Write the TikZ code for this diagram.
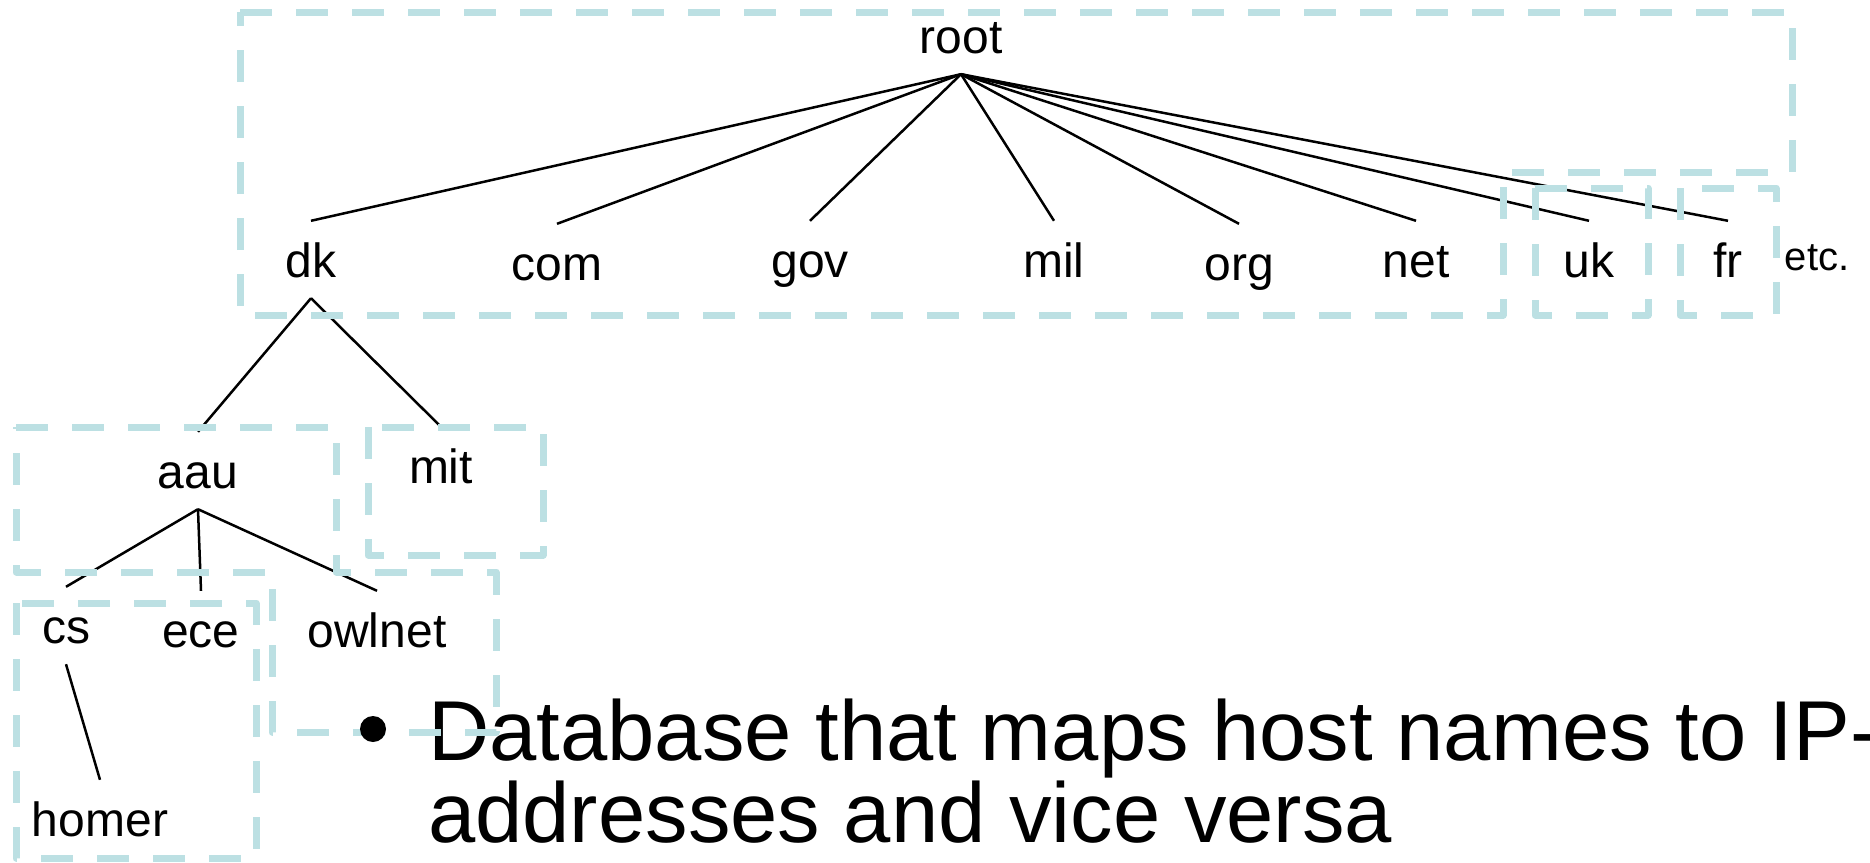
\documentclass[tikz,border=0pt]{standalone}
\usepackage{fontspec}
\setmainfont{Liberation Sans}
\definecolor{zoneblue}{HTML}{BCE0E3}
\begin{document}
\begin{tikzpicture}[x=1pt,y=-1pt,
  zone/.style={draw=zoneblue, line width=7pt, dash pattern=on 32pt off 24pt, line join=round},
  link/.style={draw=black, line width=2.5pt},
  lbl/.style={font=\fontsize{48}{48}\selectfont, text height=35pt, text depth=0pt,
              inner xsep=0pt, inner ysep=21pt, anchor=base},
  bigtext/.style={font=\fontsize{85}{85}\selectfont, inner sep=0pt, anchor=base west},
]
\useasboundingbox (0,0) rectangle (1870,862);

% bullet text
\node[bigtext] (line1) at (428,760) {Database that maps host names to IP-};
\node[bigtext] (line2) at (428,842) {addresses and vice versa};

% domain names
\node[lbl] (root) at (961,53) {root};
\node[lbl] (dk) at (311,277) {dk};
\node[lbl] (com) at (557,280) {com};
\node[lbl] (gov) at (810,277) {gov};
\node[lbl] (mil) at (1054,277) {mil};
\node[lbl] (org) at (1239,280) {org};
\node[lbl] (net) at (1416,277) {net};
\node[lbl] (uk) at (1589,277) {uk};
\node[lbl] (fr) at (1728,277) {fr};
\node[lbl, font=\fontsize{40}{40}\selectfont] (etc) at (1817,270) {etc.};
\node[lbl] (aau) at (198,488) {aau};
\node[lbl] (mit) at (441,483) {mit};
\node[lbl] (cs) at (66,643) {cs};
\node[lbl] (ece) at (201,647) {ece};
\node[lbl] (owlnet) at (377,647) {owlnet};
\node[lbl] (homer) at (100,836) {homer};

% tree edges
\foreach \c in {dk,com,gov,mil,org,net,uk,fr}
  \draw[link] (root.south) -- (\c.north);
\draw[link] (dk.south) -- (aau.north);
\draw[link] (dk.south) -- (mit.north);
\draw[link] (aau.south) -- (cs.north);
\draw[link] (aau.south) -- (ece.north);
\draw[link] (aau.south) -- (owlnet.north);
\draw[link] (cs.south) -- (homer.north);

% zones
\draw[zone] (240,12) -- (1792,12) -- (1792,172) -- (1503,172) -- (1503,315) -- (240,315) -- cycle;
\draw[zone] (1535,188) rectangle (1648,315);
\draw[zone] (1680,188) rectangle (1776,315);
\draw[zone] (16,427) -- (336,427) -- (336,572) -- (496,572) -- (496,732) -- (272,732) -- (272,572) -- (16,572) -- cycle;
\draw[zone] (368,427) rectangle (543,555);
\draw[zone] (16,603) rectangle (256,858);

% bullet
\node[circle, fill=black, inner sep=0pt, minimum size=26pt] (bullet) at (373,729) {};
\end{tikzpicture}
\end{document}
